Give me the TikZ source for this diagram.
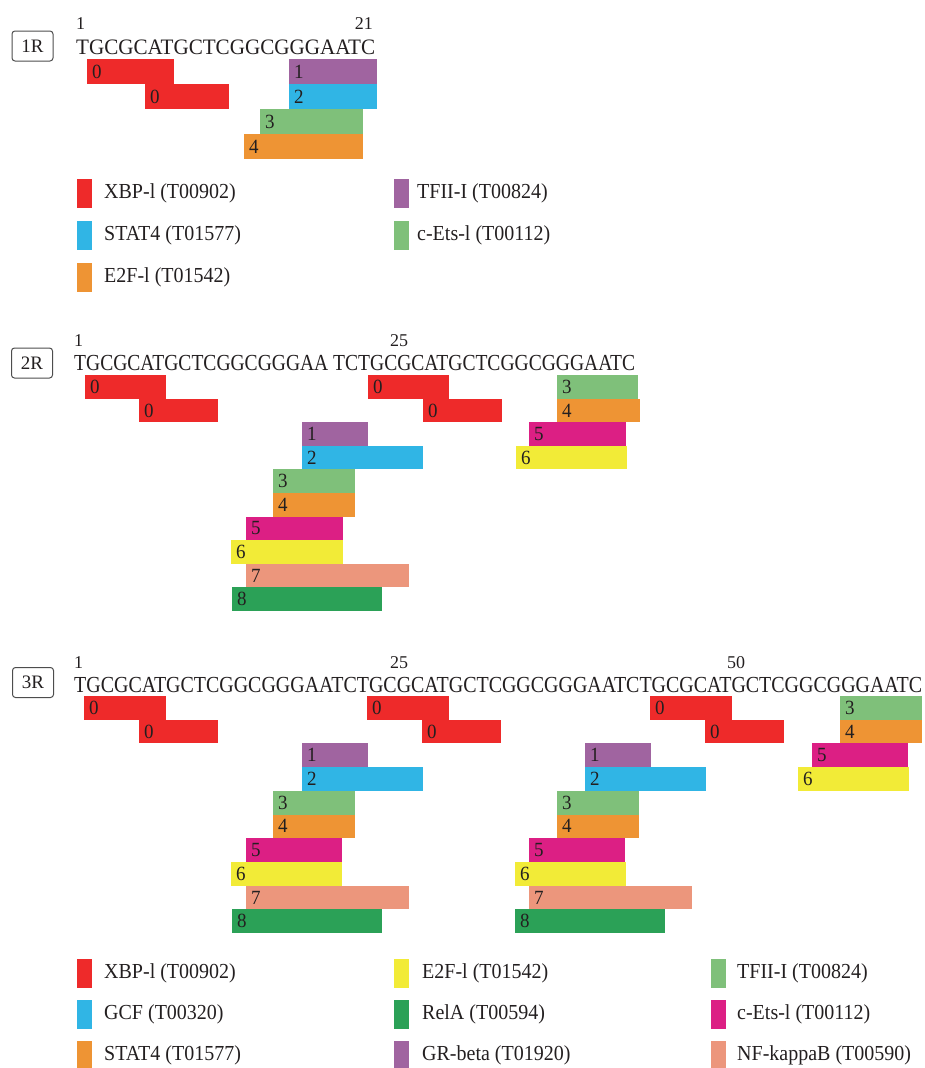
\documentclass[tikz,border=0pt]{standalone}
\usepackage{graphicx}
\usepackage{fontspec}
\setmainfont{Liberation Serif}
\definecolor{ink}{HTML}{231F20}
\definecolor{tagc}{HTML}{4D4D4D}
\definecolor{cred}{HTML}{EE2A2A}
\definecolor{cpur}{HTML}{A064A0}
\definecolor{cblu}{HTML}{30B5E5}
\definecolor{clgr}{HTML}{7FC07A}
\definecolor{cora}{HTML}{EE9434}
\definecolor{cmag}{HTML}{DC1F84}
\definecolor{cyel}{HTML}{F2EB37}
\definecolor{csal}{HTML}{EC967C}
\definecolor{cdgr}{HTML}{2BA157}
\newcommand\tfb[6]{%
  \node[tfbox, fill=#2, minimum width={#4-#3}, minimum height=\rH] (#1) at (#3,{\pT+(#5-1)*\rH}) {};
  \node[digit] (#1-l) at ([xshift=5pt]#1.west) {\scalebox{1}[1.06]{#6}};}
\newcommand\legitem[6]{%
  \node[swatch, fill=#2] (#1) at (#3,#5) {};
  \node[legtxt] (#1-t) at (#4,#5) {\scalebox{1}[1.07]{#6}};}
\begin{document}
\begin{tikzpicture}[x=1pt,y=-1pt,
  tfbox/.style={inner sep=0pt, outer sep=0pt, anchor=north west},
  digit/.style={font=\fontsize{19}{19}\selectfont, text=ink, inner sep=0pt, anchor=west},
  seq/.style={font=\fontsize{20}{20}\selectfont, text=ink, inner sep=0pt, anchor=base west},
  posnum/.style={font=\fontsize{18}{18}\selectfont, text=ink, inner sep=0pt},
  tag/.style={draw=tagc, line width=1pt, rounded corners=3pt, inner sep=0pt,
    minimum width=41pt, minimum height=30pt, font=\fontsize{19}{19}\selectfont, text=ink},
  swatch/.style={inner sep=0pt, outer sep=0pt, minimum width=15pt, minimum height=29pt, anchor=west},
  legtxt/.style={font=\fontsize{20}{20}\selectfont, text=ink, anchor=west, inner sep=0pt}]
\useasboundingbox (0,0) rectangle (925,1068);

% ---------------- Panel 1R ----------------
\node[tag] (t1) at (32.5,46) {1R};
\node[posnum, anchor=base west] (n1a) at (76,29) {1};
\node[posnum, anchor=base east] (n1b) at (373,29) {21};
\node[seq] (s1) at (76,54) {\resizebox{299pt}{14.6pt}{TGCGCATGCTCGGCGGGAATC}};
\def\pT{59}\def\rH{25}
\tfb{a1}{cred}{87}{174}{1}{0}
\tfb{a2}{cred}{145}{229}{2}{0}
\tfb{a3}{cpur}{289}{377}{1}{1}
\tfb{a4}{cblu}{289}{377}{2}{2}
\tfb{a5}{clgr}{260}{363}{3}{3}
\tfb{a6}{cora}{244}{363}{4}{4}

\legitem{l1a}{cred}{77}{104}{193.5}{XBP-l (T00902)}
\legitem{l1b}{cblu}{77}{104}{235.5}{STAT4 (T01577)}
\legitem{l1c}{cora}{77}{104}{277}{E2F-l (T01542)}
\legitem{l1d}{cpur}{394}{417}{193.5}{TFII-I (T00824)}
\legitem{l1e}{clgr}{394}{417}{235.5}{c-Ets-l (T00112)}

% ---------------- Panel 2R ----------------
\node[tag] (t2) at (32,363) {2R};
\node[posnum, anchor=base west] (n2a) at (74,346) {1};
\node[posnum, anchor=base west] (n2b) at (390,346) {25};
\node[seq] (s2) at (74,370) {\resizebox{561pt}{15.2pt}{TGCGCATGCTCGGCGGGAA TCTGCGCATGCTCGGCGGGAATC}};
\def\pT{375}\def\rH{23.6}
\tfb{b1}{cred}{85}{166}{1}{0}
\tfb{b2}{cred}{139}{218}{2}{0}
\tfb{b3}{cpur}{302}{368}{3}{1}
\tfb{b4}{cblu}{302}{423}{4}{2}
\tfb{b5}{clgr}{273}{355}{5}{3}
\tfb{b6}{cora}{273}{355}{6}{4}
\tfb{b7}{cmag}{246}{343}{7}{5}
\tfb{b8}{cyel}{231}{343}{8}{6}
\tfb{b9}{csal}{246}{409}{9}{7}
\tfb{b10}{cdgr}{232}{382}{10}{8}
\tfb{b11}{cred}{368}{449}{1}{0}
\tfb{b12}{cred}{423}{502}{2}{0}
\tfb{b13}{clgr}{557}{638}{1}{3}
\tfb{b14}{cora}{557}{640}{2}{4}
\tfb{b15}{cmag}{529}{626}{3}{5}
\tfb{b16}{cyel}{516}{627}{4}{6}

% ---------------- Panel 3R ----------------
\node[tag] (t3) at (33,682.5) {3R};
\node[posnum, anchor=base west] (n3a) at (74,668) {1};
\node[posnum, anchor=base west] (n3b) at (390,668) {25};
\node[posnum, anchor=base west] (n3c) at (727,668) {50};
\node[seq] (s3) at (74,692) {\resizebox{848pt}{15.2pt}{TGCGCATGCTCGGCGGGAATCTGCGCATGCTCGGCGGGAATCTGCGCATGCTCGGCGGGAATC}};
\def\pT{696}\def\rH{23.7}
\tfb{c1}{cred}{84}{166}{1}{0}
\tfb{c2}{cred}{139}{218}{2}{0}
\tfb{c3}{cpur}{302}{368}{3}{1}
\tfb{c4}{cblu}{302}{423}{4}{2}
\tfb{c5}{clgr}{273}{355}{5}{3}
\tfb{c6}{cora}{273}{355}{6}{4}
\tfb{c7}{cmag}{246}{342}{7}{5}
\tfb{c8}{cyel}{231}{342}{8}{6}
\tfb{c9}{csal}{246}{409}{9}{7}
\tfb{c10}{cdgr}{232}{382}{10}{8}
\tfb{c11}{cred}{367}{449}{1}{0}
\tfb{c12}{cred}{422}{501}{2}{0}
\tfb{c13}{cpur}{585}{651}{3}{1}
\tfb{c14}{cblu}{585}{706}{4}{2}
\tfb{c15}{clgr}{557}{639}{5}{3}
\tfb{c16}{cora}{557}{639}{6}{4}
\tfb{c17}{cmag}{529}{625}{7}{5}
\tfb{c18}{cyel}{515}{626}{8}{6}
\tfb{c19}{csal}{529}{692}{9}{7}
\tfb{c20}{cdgr}{515}{665}{10}{8}
\tfb{c21}{cred}{650}{732}{1}{0}
\tfb{c22}{cred}{705}{784}{2}{0}
\tfb{c23}{clgr}{840}{922}{1}{3}
\tfb{c24}{cora}{840}{922}{2}{4}
\tfb{c25}{cmag}{812}{908}{3}{5}
\tfb{c26}{cyel}{798}{909}{4}{6}

\legitem{l3a}{cred}{77}{104}{973.5}{XBP-l (T00902)}
\legitem{l3b}{cblu}{77}{104}{1014}{GCF (T00320)}
\legitem{l3c}{cora}{77}{104}{1055}{STAT4 (T01577)}
\legitem{l3d}{cyel}{394}{422}{973.5}{E2F-l (T01542)}
\legitem{l3e}{cdgr}{394}{422}{1014}{RelA (T00594)}
\legitem{l3f}{cpur}{394}{422}{1055}{GR-beta (T01920)}
\legitem{l3g}{clgr}{711}{737}{973.5}{TFII-I (T00824)}
\legitem{l3h}{cmag}{711}{737}{1014}{c-Ets-l (T00112)}
\legitem{l3i}{csal}{711}{737}{1055}{NF-kappaB (T00590)}
\end{tikzpicture}
\end{document}
